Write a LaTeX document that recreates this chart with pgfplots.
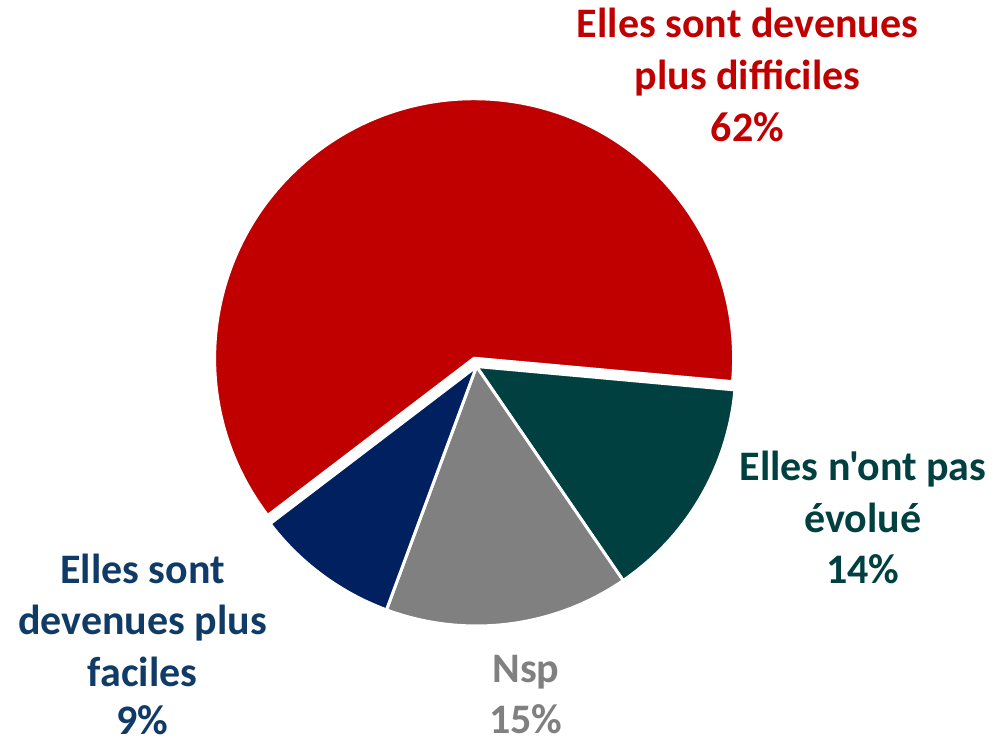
\documentclass[border=0pt]{standalone}
\usepackage{fontspec}
\setmainfont{Carlito}[Ligatures=TeXOff]
\usepackage{pgfplots}
\pgfplotsset{compat=1.18}
\usepackage{pgfplotstable}
\definecolor{slice0}{HTML}{C00000}
\definecolor{slice1}{HTML}{004040}
\definecolor{slice2}{HTML}{808080}
\definecolor{slice3}{HTML}{002060}
\definecolor{labblue}{HTML}{0F3B66}
\newcommand\lab{\fontsize{21pt}{26pt}\selectfont\bfseries}

% slice values (%) and explode offset (px)
\pgfplotstableread{
value explode
61.8 8.6
14.0 0
15.2 0
9.0 0
}\piedata

\begin{document}
\begin{tikzpicture}
\begin{axis}[x=0.5pt,y=0.5pt,xmin=0,xmax=997,ymin=0,ymax=741,
  hide axis,scale only axis,clip=false]
\path (axis cs:0,0) rectangle (axis cs:997,741);
\xdef\curangle{217.3}
\pgfplotsinvokeforeach{0,1,2,3}{
  \pgfplotstablegetelem{#1}{value}\of\piedata
  \let\sliceval\pgfplotsretval
  \pgfplotstablegetelem{#1}{explode}\of\piedata
  \let\sliceexp\pgfplotsretval
  \pgfmathsetmacro\endang{\curangle-3.6*\sliceval}
  \pgfmathsetmacro\midang{(\curangle+\endang)/2}
  \pgfmathsetmacro\cx{476.5+\sliceexp*cos(\midang)}
  \pgfmathsetmacro\cy{374.5+\sliceexp*sin(\midang)}
  \edef\temp{\noexpand\fill[slice#1,draw=white,line width=1.5pt,line join=round] (axis cs:\cx,\cy) -- ++(\curangle:129.75pt) arc[start angle=\curangle,end angle=\endang,radius=129.75pt] -- cycle;}
  \temp
  \xdef\curangle{\endang}
}
\node[anchor=base,inner sep=0,text=slice0,font=\lab] at (axis cs:747.5,703) {Elles sont devenues};
\node[anchor=base,inner sep=0,text=slice0,font=\lab] at (axis cs:747.5,651) {plus difficiles};
\node[anchor=base,inner sep=0,text=slice0,font=\lab] at (axis cs:747.5,599) {62\%};
\node[anchor=base,inner sep=0,text=slice1,font=\lab] at (axis cs:863,261) {Elles n'ont pas};
\node[anchor=base,inner sep=0,text=slice1,font=\lab] at (axis cs:863,209) {évolué};
\node[anchor=base,inner sep=0,text=slice1,font=\lab] at (axis cs:863,158) {14\%};
\node[anchor=base,inner sep=0,text=slice2,font=\lab] at (axis cs:526,59) {Nsp};
\node[anchor=base,inner sep=0,text=slice2,font=\lab] at (axis cs:526,8) {15\%};
\node[anchor=base,inner sep=0,text=labblue,font=\lab] at (axis cs:142.5,158) {Elles sont};
\node[anchor=base,inner sep=0,text=labblue,font=\lab] at (axis cs:142.5,107) {devenues plus};
\node[anchor=base,inner sep=0,text=labblue,font=\lab] at (axis cs:142.5,55) {faciles};
\node[anchor=base,inner sep=0,text=labblue,font=\lab] at (axis cs:142.5,7) {9\%};
\end{axis}
\end{tikzpicture}
\end{document}
